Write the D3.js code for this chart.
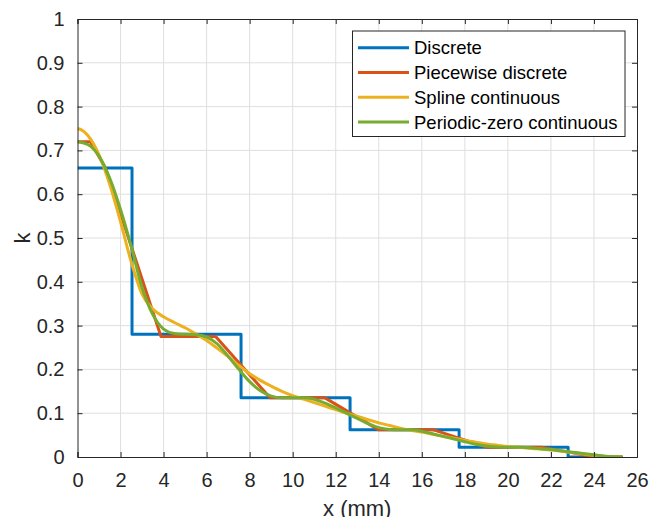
<!DOCTYPE html>
<html>
<head>
<meta charset="utf-8">
<script src="https://cdn.jsdelivr.net/npm/d3@7"></script>
<style>
  body { margin: 0; background: #fff; }
  svg { display: block; font-family: "Liberation Sans", Arial, Helvetica, sans-serif; }
</style>
</head>
<body>
<div id="chart"></div>
<script>
// chart data
const xTicks = [0, 2, 4, 6, 8, 10, 12, 14, 16, 18, 20, 22, 24, 26]
const yTicks = [0, 0.1, 0.2, 0.3, 0.4, 0.5, 0.6, 0.7, 0.8, 0.9, 1]
const seriesNames = ['Discrete', 'Piecewise discrete', 'Spline continuous', 'Periodic-zero continuous']
const seriesColors = ['#0072BD', '#D95319', '#EDB120', '#77AC30']

// discrete: one value per node, drawn as mid-point steps
const discreteX = [0, 5.067, 10.133, 15.2, 20.267, 25.333]
const discreteK = [0.66, 0.28, 0.135, 0.062, 0.022, 0]

const pieceX = [0, 0.6, 1.3, 3.88, 6.42, 8.95, 11.5, 14.0, 16.55, 19.05, 21.6, 24.1, 25.33]
const pieceK = [0.72, 0.72, 0.66, 0.275, 0.275, 0.135, 0.135, 0.062, 0.062, 0.022, 0.022, 0, 0]

const splineX = [0, 0.25, 0.5, 1, 1.5, 2, 2.5, 3, 3.5, 4, 4.5, 5, 5.5, 6, 6.5, 7, 7.5, 8, 8.5, 9, 9.5,
  10, 10.5, 11, 11.5, 12, 12.5, 13, 13.5, 14, 14.5, 15, 15.5, 16, 16.5, 17, 17.5, 18, 18.5, 19, 19.5,
  20, 20.5, 21, 21.5, 22, 22.5, 23, 23.5, 24, 24.5, 25, 25.3]
const splineK = [0.75, 0.745, 0.733, 0.69, 0.622, 0.537, 0.445, 0.372, 0.338, 0.32, 0.307, 0.295, 0.281, 0.266, 0.248, 0.229, 0.209, 0.19, 0.175, 0.162, 0.15,
  0.14, 0.132, 0.124, 0.116, 0.108, 0.1, 0.093, 0.085, 0.078, 0.072, 0.066, 0.061, 0.057, 0.052, 0.047, 0.043, 0.038, 0.034, 0.03, 0.027,
  0.024, 0.022, 0.02, 0.018, 0.016, 0.013, 0.01, 0.007, 0.004, 0.002, 0.0005, 0]

const periodicX = [0, 0.5, 1, 1.5, 2, 2.5, 3, 3.5, 4, 4.5, 5, 5.5, 6, 6.5, 7, 7.5, 8, 8.5, 9, 9.5,
  10, 10.5, 11, 11.5, 12, 12.5, 13, 13.5, 14, 14.5, 15, 15.5, 16, 16.5, 17, 17.5, 18, 18.5, 19, 19.5,
  20, 20.5, 21, 21.5, 22, 22.5, 23, 23.5, 24, 24.5, 25, 25.3]
const periodicK = [0.72, 0.713, 0.687, 0.636, 0.565, 0.48, 0.387, 0.325, 0.292, 0.282, 0.28, 0.279, 0.274, 0.258, 0.23, 0.2, 0.172, 0.151, 0.139, 0.135,
  0.135, 0.135, 0.132, 0.123, 0.112, 0.1, 0.088, 0.076, 0.067, 0.063, 0.062, 0.062, 0.059, 0.053, 0.047, 0.041, 0.035, 0.029, 0.025, 0.023,
  0.022, 0.022, 0.021, 0.019, 0.017, 0.014, 0.011, 0.008, 0.005, 0.002, 0.0005, 0]

const W = 651, H = 517
const padL = 77.5, padR = 637, padT = 19, padB = 457
const INK = '#262626'

const x = d3.scaleLinear().domain([0, 26]).range([padL, padR])
const y = d3.scaleLinear().domain([0, 1]).range([padB, padT])

const svg = d3.select('#chart').append('svg')
    .attr('width', W)
    .attr('height', H)

svg.append('defs').append('clipPath').attr('id', 'plotclip')
  .append('rect')
    .attr('x', padL).attr('y', padT)
    .attr('width', padR - padL).attr('height', padB - padT)

// grid
const grid = svg.append('g')
grid.selectAll('line.gx')
  .data(xTicks.slice(1, -1))
  .join('line')
    .attr('class', 'gx')
    .attr('x1', d => x(d)).attr('x2', d => x(d))
    .attr('y1', padT).attr('y2', padB)
    .attr('stroke', '#dfdfdf').attr('stroke-width', 1)
grid.selectAll('line.gy')
  .data(yTicks.slice(1, -1))
  .join('line')
    .attr('class', 'gy')
    .attr('x1', padL).attr('x2', padR)
    .attr('y1', d => y(d)).attr('y2', d => y(d))
    .attr('stroke', '#dfdfdf').attr('stroke-width', 1)

// series
const lines = svg.append('g').attr('clip-path', 'url(#plotclip)')
const series = [
  { x: discreteX, k: discreteK, curve: d3.curveStep },
  { x: pieceX, k: pieceK, curve: d3.curveLinear },
  { x: splineX, k: splineK, curve: d3.curveMonotoneX },
  { x: periodicX, k: periodicK, curve: d3.curveMonotoneX }
]
series.forEach((s, i) => {
  const pts = s.x.map((v, j) => [v, s.k[j]])
  lines.append('path')
    .attr('d', d3.line().x(d => x(d[0])).y(d => y(d[1])).curve(s.curve)(pts))
    .attr('fill', 'none')
    .attr('stroke', seriesColors[i])
    .attr('stroke-width', 3)
    .attr('stroke-linejoin', 'round')
})

// axes: ticks inside, box on
const tickLen = 5
const axB = svg.append('g').attr('transform', `translate(0,${padB})`)
  .call(d3.axisBottom(x).tickValues(xTicks).tickSize(-tickLen).tickPadding(16).tickFormat(d3.format('d')))
const axT = svg.append('g').attr('transform', `translate(0,${padT})`)
  .call(d3.axisTop(x).tickValues(xTicks).tickSize(-tickLen).tickFormat(''))
const axL = svg.append('g').attr('transform', `translate(${padL},0)`)
  .call(d3.axisLeft(y).tickValues(yTicks).tickSize(-tickLen).tickPadding(13).tickFormat(d => d === 0 || d === 1 ? d3.format('d')(d) : d3.format('.1f')(d)))
const axR = svg.append('g').attr('transform', `translate(${padR},0)`)
  .call(d3.axisRight(y).tickValues(yTicks).tickSize(-tickLen).tickFormat(''))

;[axB, axT, axL, axR].forEach(a => {
  a.select('.domain').attr('stroke', INK).attr('stroke-width', 1)
  a.selectAll('.tick line').attr('stroke', INK)
  a.selectAll('.tick text').attr('fill', INK).style('font-size', '20px')
    .style('font-family', '"Liberation Sans", Arial, sans-serif')
})
axB.selectAll('.tick text').attr('dy', '0.71em')

// axis labels (bottom one sits at the window edge, as in the original)
svg.append('text')
    .attr('x', (padL + padR) / 2).attr('y', 516)
    .attr('text-anchor', 'middle')
    .attr('fill', INK)
    .style('font-size', '22px')
    .text('x (mm)')
svg.append('text')
    .attr('transform', `translate(30,${(padT + padB) / 2}) rotate(-90)`)
    .attr('text-anchor', 'middle')
    .attr('fill', INK)
    .style('font-size', '22px')
    .text('k')

// legend
const lg = svg.append('g')
lg.append('rect')
    .attr('x', 352.5).attr('y', 31)
    .attr('width', 272.5).attr('height', 105.5)
    .attr('fill', '#fff')
    .attr('stroke', INK).attr('stroke-width', 1)
seriesNames.forEach((name, i) => {
  const cy = 47.7 + i * 24.8
  lg.append('line')
      .attr('x1', 358).attr('x2', 409)
      .attr('y1', cy).attr('y2', cy)
      .attr('stroke', seriesColors[i]).attr('stroke-width', 3)
  lg.append('text')
      .attr('x', 414).attr('y', cy)
      .attr('dy', '0.35em')
      .attr('fill', '#000')
      .style('font-size', '18.5px')
      .text(name)
})
</script>
</body>
</html>
